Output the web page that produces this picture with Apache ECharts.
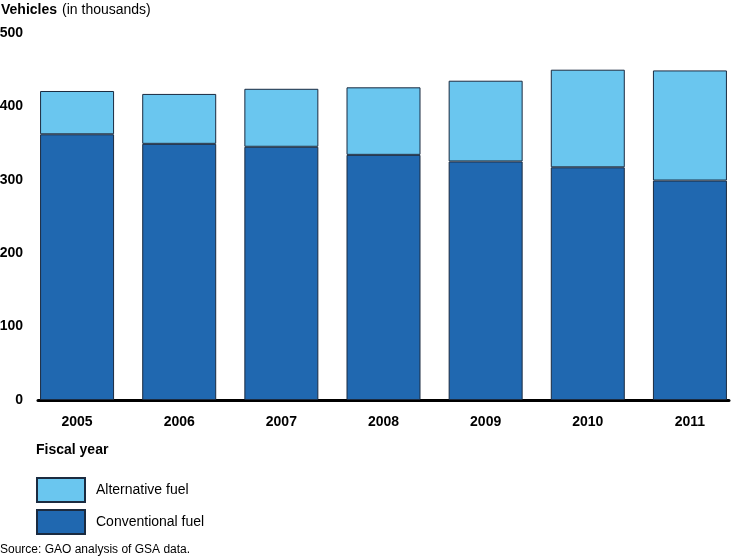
<!DOCTYPE html>
<html>
<head>
<meta charset="utf-8">
<script src="https://cdn.jsdelivr.net/npm/echarts@6/dist/echarts.min.js"></script>
<style>
html,body{margin:0;padding:0;background:#fff;}
#c{width:750px;height:559px;}
</style>
</head>
<body>
<div id="c"></div>
<script>
const years = ['2005','2006','2007','2008','2009','2010','2011'];
const conventional = [362, 349, 345, 334, 325, 317, 299];
const alternative = [59, 68, 79, 92, 110, 133, 150];
const yTicks = { min: 0, max: 500, interval: 100 };

const FONT = '"Liberation Sans", Arial, sans-serif';
const chart = echarts.init(document.getElementById('c'));
chart.setOption({
  animation: false,
  textStyle: { fontFamily: FONT, color: '#000' },
  title: [
    {
      text: '{b|Vehicles} {n|(in thousands)}',
      left: 1, top: 1, padding: 0,
      textStyle: { rich: {
        b: { fontWeight: 'bold', fontSize: 14, fontFamily: FONT, color: '#000' },
        n: { fontWeight: 'normal', fontSize: 14, fontFamily: FONT, color: '#000' }
      } }
    },
    {
      text: 'Fiscal year', left: 36, top: 443, padding: 0,
      textStyle: { fontWeight: 'bold', fontSize: 14, fontFamily: FONT, color: '#000' }
    },
    {
      text: 'Source: GAO analysis of GSA data.', left: 0, top: 544, padding: 0,
      textStyle: { fontWeight: 'normal', fontSize: 12, fontFamily: FONT, color: '#000' }
    }
  ],
  legend: {
    orient: 'vertical', left: 36, top: 477, padding: 0,
    icon: 'rect',
    itemWidth: 48, itemHeight: 24, itemGap: 6,
    data: ['Alternative fuel', 'Conventional fuel'],
    textStyle: { fontSize: 14, fontFamily: FONT, color: '#000', padding: [0, 0, 0, 6] },
    selectedMode: false
  },
  grid: [
    { left: 26, width: 715, top: 33, bottom: 159, containLabel: false, outerBoundsMode: 'none' },
    { left: 38, right: 21, top: 33, bottom: 159, containLabel: false, outerBoundsMode: 'none' }
  ],
  xAxis: [
    {
      type: 'category', data: years, gridIndex: 0,
      axisLine: { show: false }, axisTick: { show: false },
      axisLabel: { fontWeight: 'bold', fontSize: 14, color: '#000', margin: 15, fontFamily: FONT }
    },
    {
      type: 'category', data: years, gridIndex: 1,
      axisLine: { show: true, lineStyle: { color: '#000', width: 3 } },
      axisTick: { show: false }, axisLabel: { show: false }
    }
  ],
  yAxis: [
    {
      type: 'value', gridIndex: 0, min: yTicks.min, max: yTicks.max, interval: yTicks.interval,
      splitLine: { show: false }, axisLine: { show: false }, axisTick: { show: false },
      axisLabel: { fontWeight: 'bold', fontSize: 14, color: '#000', margin: 3, fontFamily: FONT }
    },
    {
      type: 'value', gridIndex: 1, min: 0, max: 500, show: false
    }
  ],
  series: [
    {
      name: 'Conventional fuel', type: 'bar', stack: 'v', data: conventional,
      barWidth: 74, xAxisIndex: 0, yAxisIndex: 0,
      itemStyle: { color: '#2068B0', borderColor: '#1B2B40', borderWidth: 1 }
    },
    {
      name: 'Alternative fuel', type: 'bar', stack: 'v', data: alternative,
      barWidth: 74, xAxisIndex: 0, yAxisIndex: 0,
      itemStyle: { color: '#6AC6EF', borderColor: '#1B2B40', borderWidth: 1 }
    }
  ]
});
</script>
</body>
</html>
